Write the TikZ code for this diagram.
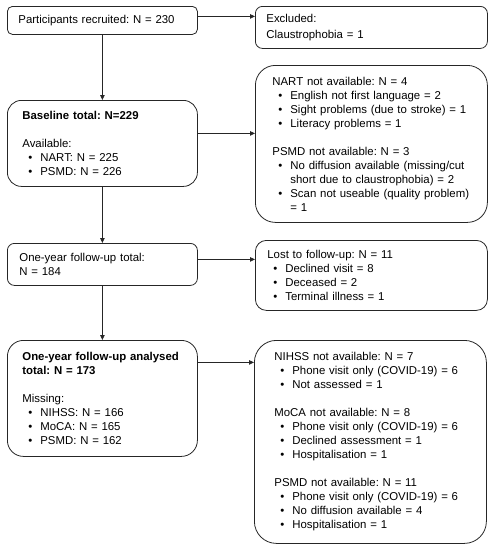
\documentclass[tikz,border=0pt]{standalone}
\usepackage{fontspec}
\setmainfont{Liberation Sans}
\usetikzlibrary{arrows.meta}
\newcommand{\bul}[1]{\mbox{\makebox[18pt][l]{\hspace{6pt}\textbullet}#1}}

\begin{document}
\begin{tikzpicture}[x=1pt, y=-1pt, font=\fontsize{11.4}{14}\selectfont\frenchspacing,
    box/.style={draw=black!85, line width=0.8pt, anchor=north west, align=left, inner ysep=0pt},
    arr/.style={draw=black!85, line width=0.8pt, -{Triangle[length=5pt, width=4.5pt]}}]
    \useasboundingbox (0,0) rectangle (492,550);

    % left column
    \node[box, rounded corners=5pt, inner xsep=11pt, text width=168pt, minimum height=28pt] (recruit) at (7,6) {Participants recruited: N = 230};
    \node[box, rounded corners=14pt, inner xsep=15pt, text width=160pt, minimum height=86pt] (baseline) at (7,100) {\textbf{Baseline total: N=229}\\[14pt]Available:\\\bul{NART: N = 225}\\\bul{PSMD: N = 226}};
    \node[box, rounded corners=7pt, inner xsep=12pt, text width=166pt, minimum height=42pt] (followup) at (7,243) {One-year follow-up total:\\N = 184};
    \node[box, rounded corners=16pt, inner xsep=15pt, text width=160pt, minimum height=116pt] (analysed) at (7,340) {\textbf{One-year follow-up analysed}\\\textbf{total: N = 173}\\[14pt]Missing:\\\bul{NIHSS: N = 166}\\\bul{MoCA: N = 165}\\\bul{PSMD: N = 162}};

    % right column
    \node[box, rounded corners=7pt, inner xsep=11pt, text width=210pt, minimum height=42pt] (excluded) at (255,6) {Excluded:\\[2pt]Claustrophobia = 1};
    \node[box, rounded corners=20pt, inner xsep=17pt, text width=198pt, minimum height=157pt] (notbase) at (255,65) {NART not available: N = 4\\\bul{English not first language = 2}\\\bul{Sight problems (due to stroke) = 1}\\\bul{Literacy problems = 1}\\[14pt]PSMD not available: N = 3\\\bul{No diffusion available (missing/cut}\\\hspace*{18pt}short due to claustrophobia) = 2\\\bul{Scan not useable (quality problem)}\\\hspace*{18pt}= 1};
    \node[box, rounded corners=11pt, inner xsep=12pt, text width=208pt, minimum height=70pt] (lost) at (255,240) {Lost to follow-up: N = 11\\\bul{Declined visit = 8}\\\bul{Deceased = 2}\\\bul{Terminal illness = 1}};
    \node[box, rounded corners=22pt, inner xsep=20pt, text width=192pt, minimum height=203pt] (notyear) at (254,340) {NIHSS not available: N = 7\\\bul{Phone visit only (COVID-19) = 6}\\\bul{Not assessed = 1}\\[14pt]MoCA not available: N = 8\\\bul{Phone visit only (COVID-19) = 6}\\\bul{Declined assessment = 1}\\\bul{Hospitalisation = 1}\\[14pt]PSMD not available: N = 11\\\bul{Phone visit only (COVID-19) = 6}\\\bul{No diffusion available = 4}\\\bul{Hospitalisation = 1}};

    % arrows
    \draw[arr] (recruit) -- (baseline);
    \draw[arr] (baseline) -- (followup);
    \draw[arr] (followup) -- (analysed);
    \draw[arr] ([yshift=4pt]recruit.east) -- ([yshift=4pt]recruit.east -| excluded.west);
    \draw[arr] ([yshift=10pt]baseline.east) -- ([yshift=10pt]baseline.east -| notbase.west);
    \draw[arr] ([yshift=5pt]followup.east) -- ([yshift=5pt]followup.east -| lost.west);
    \draw[arr] ([yshift=36pt]analysed.east) -- ([yshift=36pt]analysed.east -| notyear.west);
\end{tikzpicture}
\end{document}
